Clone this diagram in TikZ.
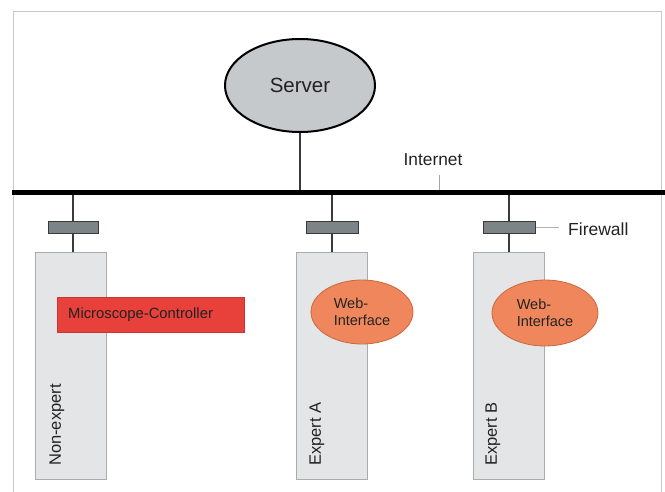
\documentclass[tikz,border=0pt]{standalone}
\usepackage{fontspec}
\setmainfont{Liberation Sans}
\usetikzlibrary{shapes.geometric}
\definecolor{framec}{HTML}{C8C8C8}
\definecolor{serverc}{HTML}{C6C9CC}
\definecolor{hostc}{HTML}{E3E5E7}
\definecolor{hostb}{HTML}{ABABAB}
\definecolor{fwc}{HTML}{7D8488}
\definecolor{redc}{HTML}{E8403A}
\definecolor{redb}{HTML}{C93530}
\definecolor{orc}{HTML}{F0875C}
\definecolor{orb}{HTML}{C9683F}
\definecolor{stemc}{HTML}{3A3A3A}
\definecolor{txtc}{HTML}{222222}
\tikzset{
  hostbox/.style={draw=hostb, fill=hostc, line width=0.8pt, minimum width=71pt, minimum height=227pt, inner sep=0pt},
  fwbox/.style={draw=stemc, fill=fwc, line width=1pt, minimum width=51pt, minimum height=12pt, inner sep=0pt},
  webell/.style={ellipse, draw=orb, fill=orc, line width=0.8pt, inner sep=0pt, font=\fontsize{14.5}{17}\selectfont, align=left, text=txtc},
  stem/.style={draw=stemc, line width=1.4pt},
  vlabel/.style={rotate=90, anchor=west, inner sep=0pt, font=\fontsize{16.5}{18}\selectfont, text=txtc},
}
\begin{document}
\begin{tikzpicture}[x=1pt,y=-1pt]
\useasboundingbox (0,0) rectangle (665,491);
% frame
\draw[framec, line width=0.8pt] (13,495) -- (13,11) -- (661,11) -- (661,495);
% bus
\coordinate (busL) at (12,192);
\coordinate (busR) at (665,192);
% server
\node[ellipse, draw=black, fill=serverc, line width=2pt, minimum width=150pt, minimum height=93pt, inner sep=0pt,
      font=\fontsize{20.5}{24}\selectfont, text=txtc] (server) at (300,85.5) {Server};
\draw[stem] (server.south) -- (server.south |- busL);
% internet label
\node[font=\fontsize{17.3}{20}\selectfont, text=txtc, inner sep=0pt] (inet) at (433,160) {Internet};
\coordinate (tick) at (439,175);
\draw[gray!70, line width=0.8pt] (tick) -- (tick |- busL);
% hosts
\node[hostbox] (host1) at (70.5,365.5) {};
\node[hostbox] (host2) at (331.5,365.5) {};
\node[hostbox] (host3) at (508.5,365.5) {};
% firewalls
\node[fwbox, minimum width=50pt] (fw1) at (73,227) {};
\node[fwbox, minimum width=52pt] (fw2) at (332,227) {};
\node[fwbox, minimum width=52pt] (fw3) at (509,227) {};
\foreach \i in {1,2,3}{
  \draw[stem] (fw\i.north |- busL) -- (fw\i.north);
  \draw[stem] (fw\i.south) -- (fw\i.south |- host\i.north);
}
\draw[line width=5pt] (busL) -- (busR);
% firewall label
\node[font=\fontsize{17.5}{20}\selectfont, text=txtc, anchor=west, inner sep=4pt] (fwlbl) at (564,229) {Firewall};
\draw[gray!60, line width=0.8pt, shorten >=5pt] (fw3.east) -- (fw3.east -| fwlbl.west);
% microscope controller
\node[draw=redb, fill=redc, line width=0.8pt, minimum width=187pt, minimum height=35pt, inner sep=0pt] (mc) at (150.5,314.5) {};
\node[anchor=west, inner sep=0pt, font=\fontsize{14.8}{17}\selectfont, text=txtc] (mclbl) at (68,314.5) {Microscope-Controller};
% web interfaces
\node[webell, minimum width=102pt, minimum height=64pt] (web1) at (362,312) {Web-\\Interface};
\node[webell, minimum width=106pt, minimum height=66pt] (web2) at (545,313) {Web-\\Interface};
% vertical labels
\node[vlabel] (l1) at (57,466) {Non-expert};
\node[vlabel] (l2) at (317,466) {Expert A};
\node[vlabel] (l3) at (493,466) {Expert B};
\end{tikzpicture}
\end{document}
